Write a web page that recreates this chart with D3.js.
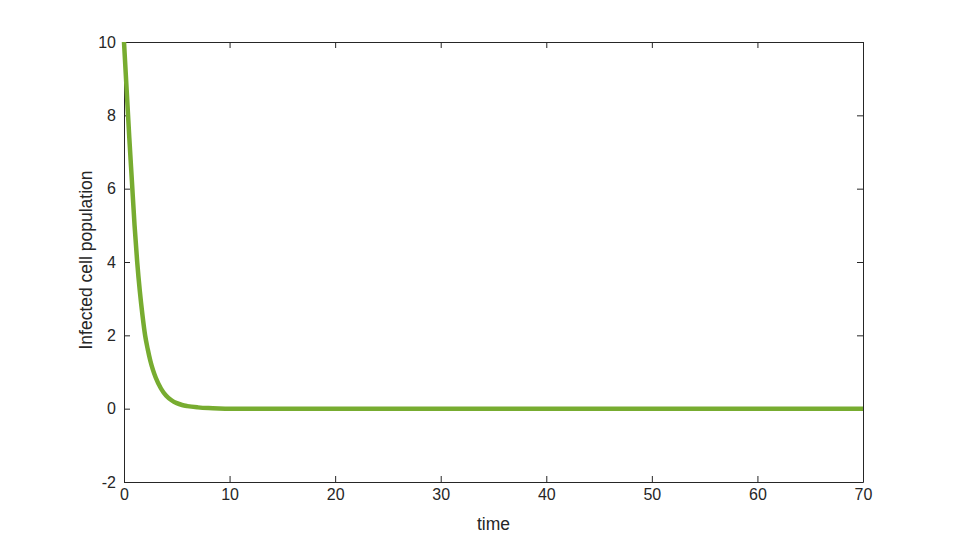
<!DOCTYPE html>
<html>
<head>
<meta charset="utf-8">
<script src="https://cdn.jsdelivr.net/npm/d3@7"></script>
<style>
  body { margin: 0; background: #fff; }
  svg { display: block; }
  .axis text { font-family: "Liberation Sans", Arial, sans-serif; fill: #262626; }
  .axis path, .axis line { stroke: #262626; }
</style>
</head>
<body>
<div id="chart"></div>
<script>
// values
var times = [0, 0.25, 0.5, 0.75, 1, 1.25, 1.5, 1.75, 2, 2.25, 2.5, 2.75, 3, 3.5, 4, 4.5, 5, 5.5, 6, 7, 8, 9, 10, 12, 15, 20, 30, 40, 50, 60, 70];
var infected = [10, 8.7, 7.4, 6.2, 5.0, 4.0, 3.2, 2.55, 2.0, 1.62, 1.3, 1.05, 0.85, 0.55, 0.35, 0.23, 0.15, 0.1, 0.07, 0.035, 0.015, 0.005, 0, 0, 0, 0, 0, 0, 0, 0, 0];
var xTicks = [0, 10, 20, 30, 40, 50, 60, 70];
var yTicks = [-2, 0, 2, 4, 6, 8, 10];

var w = 955, h = 542,
    mLeft = 124, mRight = 863, mTop = 42, mBottom = 482;

var svg = d3.select("#chart").append("svg")
    .attr("width", w)
    .attr("height", h);

var x = d3.scaleLinear().domain([0, 70]).range([mLeft, mRight]),
    y = d3.scaleLinear().domain([-2, 10]).range([mBottom, mTop]);

// axes on all four sides, ticks pointing inward
svg.append("g").attr("class", "axis")
    .attr("transform", "translate(0," + mBottom + ")")
    .call(d3.axisBottom(x).tickValues(xTicks).tickFormat(String)
        .tickSizeInner(-6).tickSizeOuter(0).tickPadding(7));

svg.append("g").attr("class", "axis")
    .attr("transform", "translate(0," + mTop + ")")
    .call(d3.axisTop(x).tickValues(xTicks).tickSizeInner(-6).tickSizeOuter(0).tickFormat(""));

svg.append("g").attr("class", "axis")
    .attr("transform", "translate(" + mLeft + ",0)")
    .call(d3.axisLeft(y).tickValues(yTicks).tickFormat(String)
        .tickSizeInner(-6).tickSizeOuter(0).tickPadding(8));

svg.append("g").attr("class", "axis")
    .attr("transform", "translate(" + mRight + ",0)")
    .call(d3.axisRight(y).tickValues(yTicks).tickSizeInner(-6).tickSizeOuter(0).tickFormat(""));

svg.selectAll(".axis text").style("font-size", "16px");

// the curve on top of the axes, clipped top/bottom to the axes box
svg.append("clipPath").attr("id", "box")
    .append("rect")
    .attr("x", mLeft - 4).attr("y", mTop)
    .attr("width", mRight - mLeft + 8).attr("height", mBottom - mTop);

var line = d3.line()
    .x(function(d, i) { return x(times[i]); })
    .y(function(d) { return y(d); })
    .curve(d3.curveMonotoneX);

svg.append("path")
    .datum(infected)
    .attr("clip-path", "url(#box)")
    .attr("fill", "none")
    .attr("stroke", "#77AC30")
    .attr("stroke-width", 4.5)
    .attr("stroke-linejoin", "round")
    .attr("d", line);

// axis titles
svg.append("text")
    .attr("x", (mLeft + mRight) / 2)
    .attr("y", 530)
    .attr("text-anchor", "middle")
    .style("font", "17.5px 'Liberation Sans', Arial, sans-serif")
    .attr("fill", "#262626")
    .text("time");

svg.append("text")
    .attr("transform", "translate(92,260) rotate(-90)")
    .attr("text-anchor", "middle")
    .style("font", "17.5px 'Liberation Sans', Arial, sans-serif")
    .attr("fill", "#262626")
    .text("Infected cell population");
</script>
</body>
</html>
